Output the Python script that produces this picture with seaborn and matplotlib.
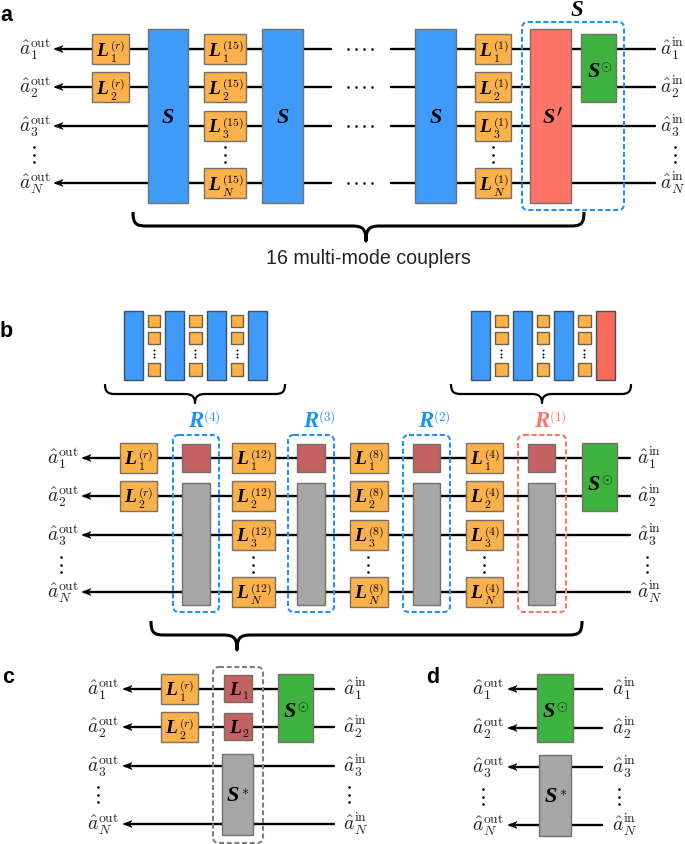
import matplotlib
matplotlib.use("Agg")
import matplotlib.pyplot as plt
import pandas as pd
import seaborn as sns
from matplotlib.patches import Rectangle, FancyBboxPatch, PathPatch, Polygon
from matplotlib.path import Path

# ---------- named content ----------
MODE_SUBS = ["1", "2", "3", "N"]
PANEL_NAMES = ["a", "b", "c", "d"]
CAPTION = "16 multi-mode couplers"
R_SUPS = ["(4)", "(3)", "(2)", "(1)"]
A_LOSS_SUPS = ["(r)", "(15)", "(1)"]
B_LOSS_SUPS = ["(r)", "(12)", "(8)", "(4)"]

# wire rows (px)
A_ROWS = [50, 88, 127, 184]
B_ROWS = [459, 497, 536, 593]
C_ROWS = [690, 728, 767, 825]
D_ROWS = [690, 729, 768, 826]

ORANGE = "#FDB14A"; BLUE = "#3F9BFA"; CORAL = "#FF7466"; GREEN = "#3FB340"
GRAY = "#A6A6A6"; BRICK = "#C46162"; DASH_BLUE = "#1E90FF"; MINI_RED = "#F56A58"

sns.set_theme(style="white")
plt.rcParams["font.family"] = ["Liberation Sans", "DejaVu Sans"]
plt.rcParams["mathtext.fontset"] = "cm"

fig = plt.figure(figsize=(6.85, 8.45), dpi=100)
ax = fig.add_axes([0, 0, 1, 1])


def block(x0, x1, y0, y1, color, edge="#777067", lw=1.0, z=3):
    ax.add_patch(Rectangle((x0, y0), x1 - x0, y1 - y0, fc=color, ec=edge, lw=lw, zorder=z))


def dashed(x0, x1, y0, y1, color):
    ax.add_patch(FancyBboxPatch((x0, y0), x1 - x0, y1 - y0, boxstyle="round,pad=0,rounding_size=6",
                                fc="none", ec=color, lw=1.5, ls=(0, (2.4, 1.3)), zorder=5))


def bold(x, y, s, size=14, color="black", ha="left"):
    ax.text(x, y, s, family="Liberation Serif", weight="bold", style="italic", fontsize=size,
            color=color, ha=ha, va="baseline", zorder=6)


def cm(x, y, s, size=8.5, color="black"):
    ax.text(x, y, f"${s}$", fontsize=size, color=color, ha="left", va="baseline", zorder=6)


def loss(x0, x1, wy, sub, sup=None, halfup=15, halfdown=15, base="L", color=ORANGE):
    block(x0, x1, wy - halfup, wy + halfdown, color)
    lx = x0 + 4.5
    bold(lx, wy + 5.5, base, 14)
    cm(lx + 13.5, wy + 11.5, sub, 8.5)
    if sup:
        cm(lx + 14, wy - 1, sup, 8.5)


def port(x, wy, kind, sub):
    ax.text(x, wy + 5, rf"$\hat{{a}}_{{{sub}}}^{{\mathrm{{{kind}}}}}$", fontsize=14,
            ha="left", va="baseline", color="#222222", zorder=6)


def vdots(x, y0, size=3.5):
    d = pd.DataFrame({"x": [x, x, x], "y": [y0, y0 + 7.5, y0 + 15]})
    sns.scatterplot(data=d, x="x", y="y", s=size, color="black", linewidth=0, ax=ax, zorder=6, legend=False)


def head(tip, y):
    ax.add_patch(Polygon([(tip, y), (tip + 9, y - 3.5), (tip + 6.5, y), (tip + 9, y + 3.5)],
                         fc="black", ec="black", lw=0.3, zorder=2))


def brace(x0, x1, xt, yt, ym, yb, lw, r=12):
    v = [(x0, yt), (x0, ym - 2), (x0 + 3, ym), (x0 + r, ym),
         (xt - r, ym), (xt - 3, ym), (xt, ym + 3), (xt, yb),
         (xt, ym + 3), (xt + 3, ym), (xt + r, ym),
         (x1 - r, ym), (x1 - 3, ym), (x1, ym - 2), (x1, yt)]
    c = [Path.MOVETO, Path.CURVE4, Path.CURVE4, Path.CURVE4,
         Path.LINETO, Path.CURVE4, Path.CURVE4, Path.CURVE4,
         Path.CURVE4, Path.CURVE4, Path.CURVE4,
         Path.LINETO, Path.CURVE4, Path.CURVE4, Path.CURVE4]
    ax.add_patch(PathPatch(Path(v, c), fc="none", ec="black", lw=lw, capstyle="butt", joinstyle="round", zorder=4))


# ---------- wires ----------
segs = []
for r in A_ROWS:
    segs += [(56, 331, r), (391, 655, r)]
for r in B_ROWS:
    segs.append((84, 630, r))
for r in C_ROWS:
    segs.append((125, 334, r))
for r in D_ROWS:
    segs.append((510, 602, r))
rows = []
for i, (a, b, y) in enumerate(segs):
    rows += [{"x": a, "y": y, "w": i}, {"x": b, "y": y, "w": i}]
wires = pd.DataFrame(rows)
sns.lineplot(data=wires, x="x", y="y", units="w", estimator=None, sort=False, color="black",
             lw=1.7, ax=ax, legend=False, zorder=1)
for rs, tip in [(A_ROWS, 54), (B_ROWS, 82), (C_ROWS, 123), (D_ROWS, 508)]:
    for r in rs:
        head(tip, r)

# ---------- panel a ----------
for i, r in enumerate(A_ROWS):
    port(19, r, "out", MODE_SUBS[i])
    port(660, r, "in", MODE_SUBS[i])
    if i < 2:
        loss(92, 129, r, MODE_SUBS[i], A_LOSS_SUPS[0])
    loss(204, 246, r, MODE_SUBS[i], A_LOSS_SUPS[1])
    loss(475, 511, r, MODE_SUBS[i], A_LOSS_SUPS[2])
    for x in (348, 356, 364, 372):
        sns.scatterplot(x=[x], y=[r], s=3.5, color="black", linewidth=0, ax=ax, zorder=6, legend=False)
for x0, x1 in [(148, 188), (262, 303), (415, 456)]:
    block(x0, x1, 30, 204, BLUE)
    bold((x0 + x1) / 2, 123, "S", 16, ha="center")
block(530, 571, 30, 204, CORAL)
bold(549, 123, "S", 16, ha="center")
cm(556, 116, r"\prime", 13)
block(581, 616, 35, 103, GREEN)
bold(588, 77, "S", 16)
cm(600, 71, r"\odot", 10)
dashed(522, 624, 23, 211, DASH_BLUE)
bold(577, 16, "S", 16.5, ha="center")
for x in (34, 225, 493, 675):
    vdots(x, 148)
brace(133, 584, 366, 213, 227, 242, 2.2, r=14)
ax.text(368, 264, CAPTION, fontsize=14.1, ha="center", va="baseline", color="#222222")

# ---------- panel b minis ----------
mini_ys = [(316, 328), (333, 345), (364, 377)]
for bars, smalls in [
    ([(124, 143, BLUE), (165, 184, BLUE), (207, 226, BLUE), (248, 267, BLUE)],
     [(148, 160), (189, 202), (231, 243)]),
    ([(471, 490, BLUE), (513, 532, BLUE), (554, 573, BLUE), (596, 615, MINI_RED)],
     [(495, 508), (537, 549), (578, 591)]),
]:
    for x0, x1, c in bars:
        block(x0, x1, 312, 381, c, edge="#3f4f5f")
    for x0, x1 in smalls:
        for y0, y1 in mini_ys:
            block(x0, x1, y0, y1, ORANGE, edge="#6f6040")
        d = pd.DataFrame({"x": [(x0 + x1) / 2] * 3, "y": [351, 354.5, 358]})
        sns.scatterplot(data=d, x="x", y="y", s=2, color="black", linewidth=0, ax=ax, zorder=6, legend=False)
brace(105, 285, 195, 385, 395, 404, 1.6, r=10)
brace(451, 631, 542, 385, 395, 404, 1.6, r=10)

# ---------- panel b ----------
b_cols = [(120, 157), (232, 275), (350, 388), (466, 503)]
for i, r in enumerate(B_ROWS):
    port(47, r, "out", MODE_SUBS[i])
    port(637, r, "in", MODE_SUBS[i])
    for k, (x0, x1) in enumerate(b_cols):
        if k == 0 and i > 1:
            continue
        loss(x0, x1, r, MODE_SUBS[i], B_LOSS_SUPS[k])
r_cols = [(182, 210, 173, 219, 188), (297, 325, 288, 334, 303),
          (413, 440, 403, 450, 418), (528, 555, 518, 566, 534)]
for k, (x0, x1, d0, d1, tx) in enumerate(r_cols):
    block(x0, x1, 445, 473, BRICK)
    block(x0, x1, 484, 606, GRAY)
    col = CORAL if k == 3 else DASH_BLUE
    dashed(d0, d1, 436, 613, col)
    bold(tx, 427, "R", 16.5, color=col)
    cm(tx + 15, 421, R_SUPS[k], 9.5, color=col)
block(582, 617, 444, 512, GREEN)
bold(588, 490, "S", 16)
cm(601, 484, r"\odot", 10)
for x in (61, 253, 368, 484, 647):
    vdots(x, 558)
brace(151, 582, 237, 622, 636, 651, 2.2, r=14)

# ---------- panel c ----------
for i, r in enumerate(C_ROWS):
    port(87, r, "out", MODE_SUBS[i])
    port(343, r, "in", MODE_SUBS[i])
for i, r in enumerate(C_ROWS[:2]):
    loss(161, 198, r, MODE_SUBS[i], "(r)")
    block(224, 252, r - 14, r + 13, BRICK)
    bold(229, r + 5.5, "L", 14)
    cm(242.5, r + 9, str(i + 1), 8.5)
block(222, 253, 755, 836, GRAY)
bold(233, 801, "S", 16, ha="center")
cm(241, 795, "*", 10)
block(278, 313, 675, 743, GREEN)
bold(284, 717, "S", 16)
cm(297, 711, r"\odot", 10)
dashed(213, 263, 668, 844, "#7f7f7f")
vdots(98, 788)
vdots(349, 788)

# ---------- panel d ----------
for i, r in enumerate(D_ROWS):
    port(472, r, "out", MODE_SUBS[i])
    port(612, r, "in", MODE_SUBS[i])
block(537, 573, 675, 743, GREEN)
bold(543, 717, "S", 16)
cm(556, 711, r"\odot", 10)
block(539, 571, 756, 837, GRAY)
bold(551, 802, "S", 16, ha="center")
cm(559, 796, "*", 10)
vdots(483, 790)
vdots(619, 790)

# ---------- panel letters ----------
for name, x, y in zip(PANEL_NAMES, [0, 0, 2, 426], [21, 337, 683, 683]):
    ax.text(x, y, name, fontsize=15.5, weight="bold", color="black", ha="left", va="baseline")

ax.set_xlim(0, 685)
ax.set_ylim(845, 0)
ax.axis("off")
fig.savefig("out.png", dpi=100, facecolor="white")
